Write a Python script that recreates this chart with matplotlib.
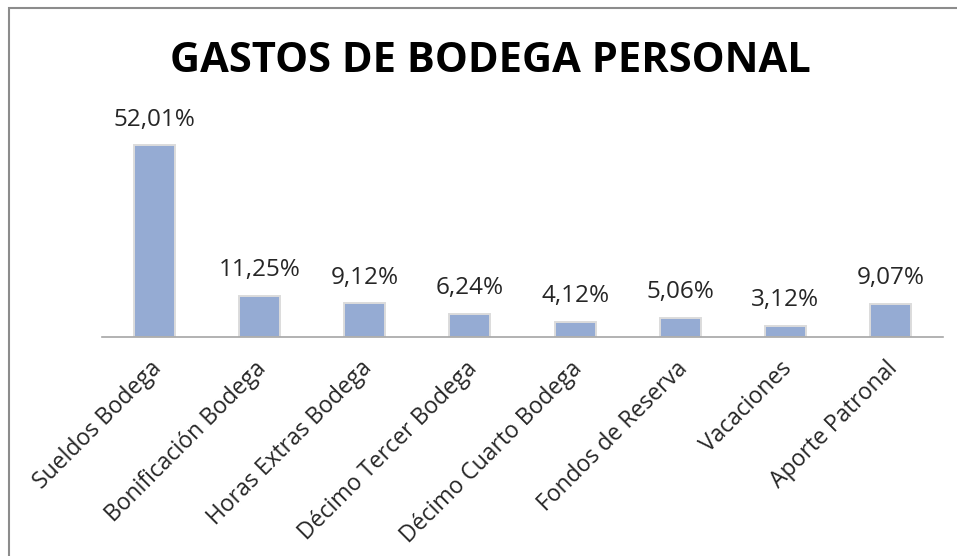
#!/usr/bin/env python3
"""Gastos de bodega: personal, barras con porcentaje."""
import matplotlib
matplotlib.use("Agg")
import matplotlib.pyplot as plt
import matplotlib.transforms as mtransforms
from matplotlib.patches import Rectangle

categorias = ["Sueldos Bodega", "Bonificación Bodega", "Horas Extras Bodega",
              "Décimo Tercer Bodega", "Décimo Cuarto Bodega", "Fondos de Reserva",
              "Vacaciones", "Aporte Patronal"]
porcentajes = [52.01, 11.25, 9.12, 6.24, 4.12, 5.06, 3.12, 9.07]
etiquetas = ["52,01%", "11,25%", "9,12%", "6,24%", "4,12%", "5,06%", "3,12%", "9,07%"]

BAR = "#95abd3"
plt.rcParams["font.family"] = ["Open Sans", "DejaVu Sans"]

W, H = 957, 556
fig = plt.figure(figsize=(W / 100, H / 100), dpi=100)
fig.patch.set_facecolor("white")

# marco del gráfico
fig.add_artist(Rectangle((9 / W, -0.05), 1.2, (H - 8) / H + 0.05, transform=fig.transFigure,
                         fill=False, edgecolor="#8c8c8c", linewidth=1.5))

# ejes: base en y=337 px, de x=102 a x=943 px
x0, x1, yb = 102, 943, 337
ax = fig.add_axes([x0 / W, (H - yb) / H, (x1 - x0) / W, 221 / H])
ax.set_facecolor("none")

xs = range(len(categorias))
ax.bar(xs, porcentajes, width=0.39, color=BAR, edgecolor="#dcdcdc", linewidth=1.4)
ax.set_xlim(-0.5, len(categorias) - 0.5)
ax.set_ylim(0, 60)

for x, v, t in zip(xs, porcentajes, etiquetas):
    ax.annotate(t, (x, v), xytext=(0, 10), textcoords="offset points",
                ha="center", va="bottom", fontsize=17.5, color="#262626")

ax.set_xticks(list(xs))
ax.set_xticklabels(categorias, rotation=45, ha="right", rotation_mode="anchor",
                   fontsize=16.5, color="#262626")
ax.tick_params(axis="x", length=0, pad=14)
shift = mtransforms.ScaledTranslation(-5 / 100, 0, fig.dpi_scale_trans)
for lab in ax.get_xticklabels():
    lab.set_transform(lab.get_transform() + shift)
ax.set_yticks([])
for s in ("top", "left", "right"):
    ax.spines[s].set_visible(False)
ax.spines["bottom"].set_color("#a6a6a6")
ax.spines["bottom"].set_linewidth(1.2)

fig.text(0.512, (H - 62) / H, "GASTOS DE BODEGA PERSONAL", ha="center", va="center",
         fontsize=30, fontweight="bold", color="black")

fig.savefig("out.png", dpi=100, facecolor="white")
